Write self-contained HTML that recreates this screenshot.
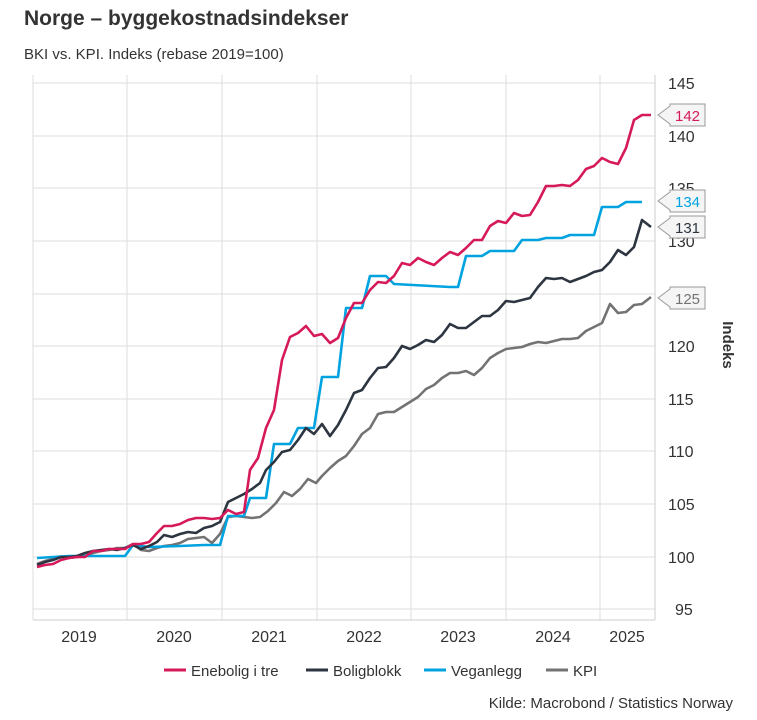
<!DOCTYPE html><html><head><style>body{margin:0;background:#fff}svg{display:block;font-family:"Liberation Sans",Arial,sans-serif}</style></head><body>
<svg width="757" height="720" xmlns="http://www.w3.org/2000/svg">
<text x="24" y="25" font-size="21" font-weight="bold" fill="#333">Norge – byggekostnadsindekser</text>
<text x="24" y="59" font-size="15" fill="#333">BKI vs. KPI. Indeks (rebase 2019=100)</text>
<g stroke="#ddd" stroke-width="1">
<line x1="33" x2="655" y1="83" y2="83"/><line x1="33" x2="655" y1="136" y2="136"/><line x1="33" x2="655" y1="188" y2="188"/><line x1="33" x2="655" y1="241" y2="241"/><line x1="33" x2="655" y1="294" y2="294"/><line x1="33" x2="655" y1="346" y2="346"/><line x1="33" x2="655" y1="399" y2="399"/><line x1="33" x2="655" y1="451" y2="451"/><line x1="33" x2="655" y1="504" y2="504"/><line x1="33" x2="655" y1="557" y2="557"/><line x1="33" x2="655" y1="609" y2="609"/>
<line x1="127" x2="127" y1="75" y2="620"/><line x1="222" x2="222" y1="75" y2="620"/><line x1="317" x2="317" y1="75" y2="620"/><line x1="411" x2="411" y1="75" y2="620"/><line x1="506" x2="506" y1="75" y2="620"/><line x1="600" x2="600" y1="75" y2="620"/>
<line x1="33" x2="33" y1="75" y2="620"/>
</g>
<line x1="33" x2="655" y1="620" y2="620" stroke="#ccc"/><line x1="655" x2="655" y1="75" y2="620" stroke="#ccc"/>
<g font-size="16" fill="#333" text-anchor="middle">
<text x="79" y="642">2019</text><text x="174" y="642">2020</text><text x="269" y="642">2021</text><text x="364" y="642">2022</text><text x="458" y="642">2023</text><text x="553" y="642">2024</text><text x="627" y="642">2025</text>
</g>
<g font-size="16" fill="#333">
<text x="668" y="89">145</text><text x="668" y="142">140</text><text x="668" y="194">135</text><text x="668" y="247">130</text><text x="668" y="300">125</text><text x="668" y="352">120</text><text x="668" y="405">115</text><text x="668" y="457">110</text><text x="668" y="510">105</text><text x="668" y="563">100</text><text x="675" y="615">95</text>
</g>
<text transform="translate(723,345) rotate(90)" font-size="15" font-weight="bold" fill="#333" text-anchor="middle">Indeks</text>
<g fill="none" stroke-width="2.6" stroke-linejoin="round">
<polyline stroke="#737373" points="37,564 45,561 53,559 61,557 69,558 77,557 85,556 93,553 101,551 109,550 117,548 125,548 133,544 141,550 149,551 157,548 164,546 172,545 180,543 188,539 196,538 204,537 212,543 220,534 228,517 236,516 244,517 252,518 260,517 268,511 276,503 284,492 292,496 300,489 308,479 316,483 322,476 330,468 338,461 346,456 354,446 362,434 370,428 378,414 386,412 394,412 402,407 410,402 418,397 426,389 434,385 442,378 450,373 458,373 466,371 474,375 482,368 490,358 498,353 506,349 514,348 522,347 530,344 538,342 546,343 554,341 562,339 570,339 578,338 586,331 594,327 602,323 610,304 618,313 626,312 634,305 642,304 651,297"/>
<polyline stroke="#00a3e0" points="37,558 69,556 125,556 133,545 149,547 180,546 204,545 220,545 228,516 244,516 250,498 266,498 274,444 290,444 298,428 314,428 322,377 338,377 346,308 362,308 370,276 386,276 394,284 450,287 458,287 466,256 482,256 490,251 514,251 522,240 538,240 546,238 562,238 570,235 594,235 602,207 618,207 626,202 642,202"/>
<polyline stroke="#2d3540" points="37,565 45,562 53,560 61,557 69,557 77,556 85,553 93,551 101,550 109,549 117,550 125,548 133,545 141,549 149,546 157,542 164,535 172,537 180,534 188,532 196,533 204,528 212,526 220,522 228,502 236,498 244,494 252,489 260,483 266,470 274,462 282,452 290,450 298,440 306,428 314,434 322,424 330,436 338,425 346,410 354,393 362,390 370,378 378,368 386,367 394,358 402,346 410,349 418,345 426,340 434,342 442,335 450,324 458,328 466,328 474,322 482,316 490,316 498,310 506,301 514,302 522,300 530,298 538,287 546,278 554,279 562,278 570,282 578,279 586,276 594,272 602,270 610,262 618,250 626,255 634,247 642,220 651,227"/>
<polyline stroke="#d6195a" points="37,567 45,565 53,564 61,560 69,558 77,557 85,557 93,551 101,551 109,549 117,549 125,549 133,544 141,544 149,542 157,533 164,526 172,526 180,524 188,520 196,518 204,518 212,519 220,518 228,510 236,514 244,512 250,470 258,458 266,428 274,410 282,360 290,337 298,333 306,326 314,336 322,334 330,343 338,338 346,318 354,303 362,303 370,290 378,282 386,283 394,276 402,263 410,265 418,258 426,262 434,265 442,258 450,252 458,255 466,248 474,240 482,240 490,226 498,221 506,223 514,213 522,216 530,215 538,202 546,186 554,186 562,185 570,186 578,180 586,169 594,166 602,158 610,162 618,164 626,148 634,120 642,115 651,115"/>
</g>
<g font-size="15" stroke="#999" fill="#f5f5f5">
<path d="M658,115 L670,106 L670,104 L705,104 L705,126 L670,126 L670,124 Z"/>
<path d="M658,201 L670,192 L670,190 L705,190 L705,212 L670,212 L670,210 Z"/>
<path d="M658,227 L670,218 L670,216 L705,216 L705,238 L670,238 L670,236 Z"/>
<path d="M658,298 L670,289 L670,287 L705,287 L705,309 L670,309 L670,307 Z"/>
</g>
<g font-size="15">
<text x="675" y="121" fill="#d6195a">142</text><text x="675" y="207" fill="#00a3e0">134</text><text x="675" y="233" fill="#2d3540">131</text><text x="675" y="304" fill="#737373">125</text>
</g>
<g font-size="15" fill="#333" stroke-width="3">
<line x1="164" x2="186" y1="670" y2="670" stroke="#d6195a"/><text x="191" y="676">Enebolig i tre</text>
<line x1="306" x2="328" y1="670" y2="670" stroke="#2d3540"/><text x="333" y="676">Boligblokk</text>
<line x1="424" x2="446" y1="670" y2="670" stroke="#00a3e0"/><text x="451" y="676">Veganlegg</text>
<line x1="546" x2="568" y1="670" y2="670" stroke="#737373"/><text x="573" y="676">KPI</text>
</g>
<text x="733" y="708" font-size="15" fill="#333" text-anchor="end">Kilde: Macrobond / Statistics Norway</text>
</svg></body></html>
